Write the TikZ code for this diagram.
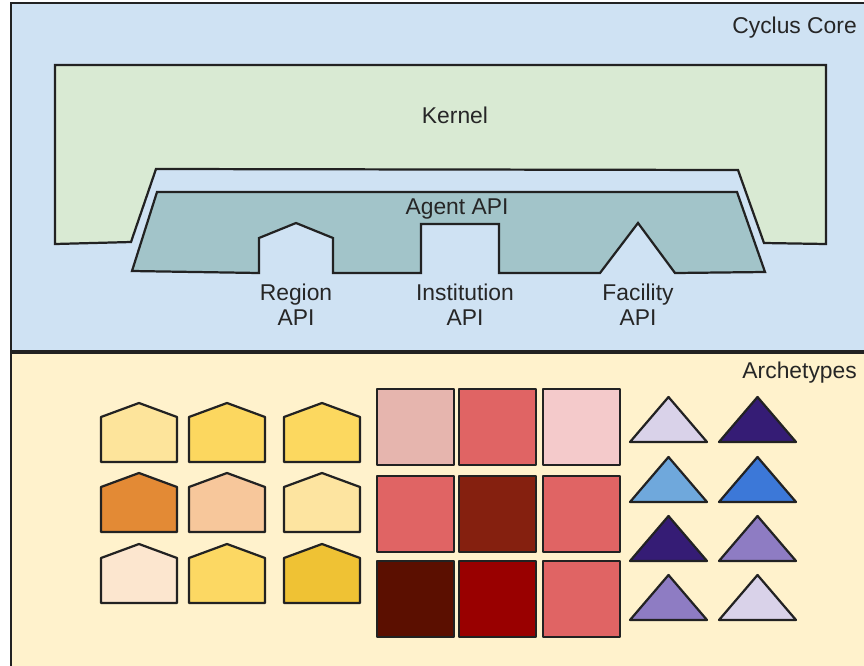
\documentclass[tikz,border=0pt]{standalone}
\usepackage{fontspec}
\setmainfont{Liberation Sans}
\usepackage{tikz}
\usetikzlibrary{positioning}
\definecolor{CoreBlue}{HTML}{CFE2F3}
\definecolor{KernelGreen}{HTML}{D9EAD3}
\definecolor{AgentTeal}{HTML}{A2C4C9}
\definecolor{ArchCream}{HTML}{FFF2CC}
\definecolor{EdgeGray}{HTML}{222222}

\begin{document}
\begin{tikzpicture}[
  x=0.03cm, y=-0.03cm,
  font=\fontsize{19.5}{21.5}\selectfont,
  panel/.style={draw=EdgeGray, line width=1.9pt},
  part/.style={draw=EdgeGray, line width=1.9pt, line join=miter},
  arch/.style={draw=EdgeGray, line width=1.9pt, line join=round},
  lbl/.style={align=center, text=black!85, inner sep=0pt},
]
\useasboundingbox (0,0) rectangle (864,665);

% Panels
\fill[white] (0,0) rectangle (864,665);
\draw[panel, fill=CoreBlue] (11,3) rectangle (880,352);
\draw[panel, fill=ArchCream] (11,352) rectangle (880,680);
\draw[EdgeGray, line width=2.8pt] (11,352) -- (880,352);

\node[lbl, anchor=east] (core) at (857,28) {Cyclus Core};
\node[lbl, anchor=east] (archetypes) at (857,373) {Archetypes};

% Kernel
\draw[part, fill=KernelGreen] (55,65) -- (826,65) -- (826,244) -- (764,243)
  -- (738,170) -- (156,169) -- (131,242) -- (55,244) -- cycle;
\node[lbl] (kernel) at (455,115) {Kernel};

% Agent API with the three sockets
\draw[part, fill=AgentTeal] (157,192) -- (737,192) -- (765,272) -- (675,273)
  -- (638,223) -- (600,273) -- (499,273) -- (499,224) -- (421,224)
  -- (421,273) -- (333,273) -- (333,238) -- (296,223) -- (259,238)
  -- (259,273) -- (132,271) -- cycle;
\node[lbl] (agent) at (457,209) {Agent API};

\node[lbl] (region) at (296,305) {Region\\API};
\node[lbl] (institution) at (465,305) {Institution\\API};
\node[lbl] (facility) at (638,305) {Facility\\API};

% Region archetypes
\foreach \cx/\by/\col in {139/462/FDE49B, 227/462/FCD75F, 322/462/FCD85F,
                          139/532/E38A35, 227/532/F7C79B, 322/532/FDE4A0,
                          139/603/FCE6CF, 227/603/FCD863, 322/603/EFC234} {
  \definecolor{fillc}{HTML}{\col}
  \draw[arch, fill=fillc] ({\cx-38},\by) -- ++(0,-45) -- ++(38,-14)
    -- ++(38,14) -- ++(0,45) -- cycle;
}

% Institution archetypes
\foreach \lx/\ty/\col in {377/389/E6B5AE, 459/389/E06464, 543/389/F4CACB,
                          377/476/E06464, 459/476/85200F, 543/476/E06464,
                          377/561/5B0F00, 459/561/990000, 543/561/E06464} {
  \definecolor{fillc}{HTML}{\col}
  \draw[arch, fill=fillc] (\lx,\ty) rectangle ++(77,76);
}

% Facility archetypes
\foreach \lx/\by/\col in {630/442/D9D2E9, 719/442/351C75,
                          630/502/6FA8DC, 719/502/3C78D8,
                          630/561/351C75, 719/561/8E7CC3,
                          630/620/8E7CC3, 719/620/D9D2E9} {
  \definecolor{fillc}{HTML}{\col}
  \draw[arch, fill=fillc] (\lx,\by) -- ++(38.5,-45) -- ++(38.5,45) -- cycle;
}

\end{tikzpicture}
\end{document}
